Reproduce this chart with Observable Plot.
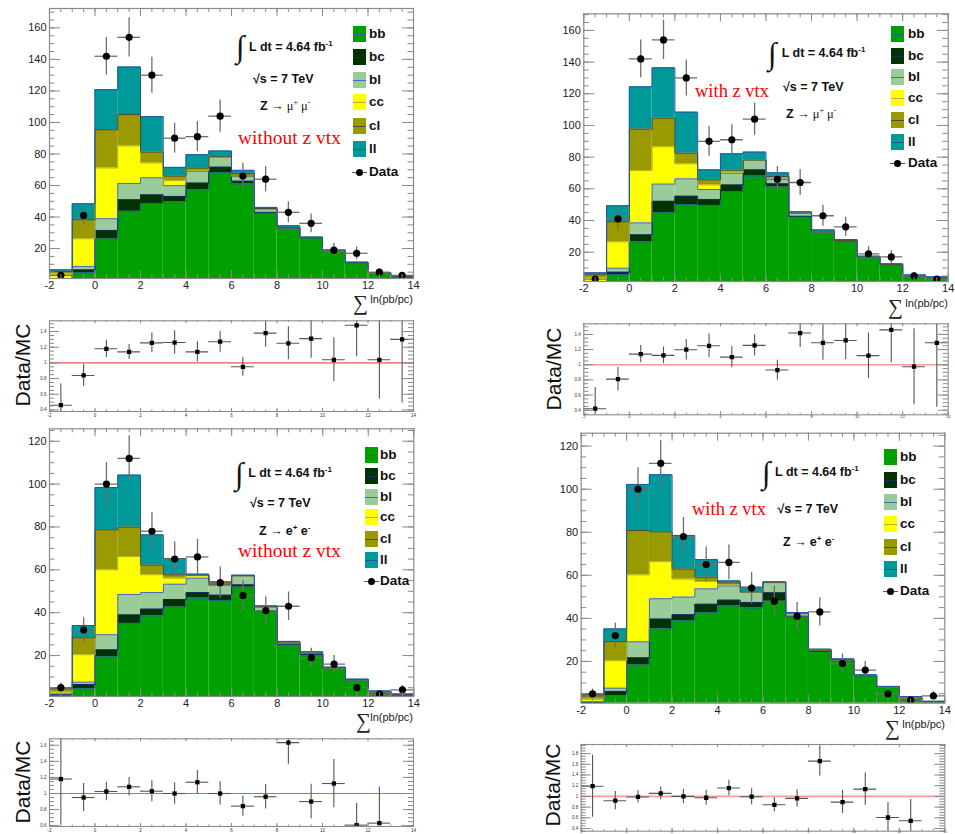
<!DOCTYPE html>
<html><head><meta charset="utf-8">
<script src="https://cdn.jsdelivr.net/npm/d3@7"></script>
<script src="https://cdn.jsdelivr.net/npm/@observablehq/plot@0.6"></script>
<style>
body{margin:0;background:#fff;}
#root{position:relative;width:955px;height:834px;overflow:hidden;font-family:"Liberation Sans",Arial,sans-serif;background:#fff;}
#root svg{position:absolute;}
.t{position:absolute;white-space:nowrap;line-height:1;}
.sw{position:absolute;width:13px;height:16px;}
.sw i{position:absolute;left:0;right:0;top:7.5px;height:1px;}
</style></head><body><div id="root"></div>
<script>
// ---------- binning ----------
const binEdges = [-2,-1,0,1,2,3,4,5,6,7,8,9,10,11,12,13,14];
const binCenters = [-1.5,-0.5,0.5,1.5,2.5,3.5,4.5,5.5,6.5,7.5,8.5,9.5,10.5,11.5,12.5,13.5];
const layerNames = ["bb","bc","bl","cc","cl","ll"];
const layerFills = ["#00a000","#003300","#99cc99","#ffff00","#999900","#009999"];
const layerLines = ["#22668a","#1a2a66","#4d6bb0","#b3b31a","#4d4d38","#2255aa"];

// ---------- Z -> mu mu, without z vtx ----------
const muNoVtx_bb = [0.3, 4.8, 26.0, 43.6, 48.6, 49.7, 57.3, 68.1, 60.9, 42.6, 32.8, 26.8, 18.2, 11.0, 4.2, 2.0];
const muNoVtx_bc = [0.2, 1.7, 5.5, 7.4, 5.5, 3.4, 4.3, 3.6, 1.9, 0.4, 0.1, 0.1, 0.1, 0.0, 0.1, 0.1];
const muNoVtx_bl = [0.3, 2.1, 7.4, 10.3, 10.8, 6.8, 7.4, 6.4, 3.1, 2.0, 0.2, 0.1, 0.2, 0.1, 0.1, 0.1];
const muNoVtx_cc = [3.0, 17.6, 32.2, 23.8, 9.4, 3.3, 0.4, 0.1, 0.1, 0.2, 0.1, 0.0, 0.0, 0.0, 0.0, 0.0];
const muNoVtx_cl = [1.7, 12.1, 24.3, 19.9, 6.9, 2.8, 1.7, 0.1, 1.5, 0.2, 0.1, 0.1, 0.1, 0.1, 0.1, 0.1];
const muNoVtx_ll = [1.0, 10.1, 25.4, 30.2, 22.5, 5.5, 8.5, 3.6, 2.1, 0.7, 1.2, 0.2, 0.6, 0.2, 0.3, 0.4];
// ---------- Z -> mu mu, with z vtx ----------
const muVtx_bb = [0.3, 5.9, 26.5, 44.9, 50.1, 49.5, 58.3, 68.0, 61.1, 42.5, 32.4, 27.0, 16.6, 12.0, 5.0, 3.6];
const muVtx_bc = [0.3, 1.5, 4.5, 7.3, 5.3, 3.8, 4.2, 4.0, 2.1, 0.2, 0.1, 0.1, 0.1, 0.1, 0.1, 0.1];
const muVtx_bl = [0.3, 2.5, 7.5, 10.8, 10.9, 6.3, 7.4, 6.0, 4.3, 1.9, 0.2, 0.2, 0.2, 0.1, 0.1, 0.1];
const muVtx_cc = [3.1, 16.6, 33.1, 23.5, 9.5, 2.9, 0.6, 0.1, 0.1, 0.1, 0.1, 0.0, 0.0, 0.0, 0.0, 0.0];
const muVtx_cl = [1.8, 12.7, 26.1, 18.1, 6.7, 3.2, 1.3, 0.1, 0.2, 0.1, 0.1, 0.1, 0.1, 0.1, 0.1, 0.1];
const muVtx_ll = [1.2, 10.1, 26.7, 31.8, 25.9, 6.3, 10.3, 5.0, 2.3, 0.7, 1.2, 0.6, 0.5, 0.4, 0.4, 0.5];
// ---------- Z -> e e, without z vtx ----------
const elNoVtx_bb = [1.6, 4.5, 19.4, 35.0, 38.5, 42.6, 46.8, 45.7, 51.9, 40.7, 25.2, 20.5, 14.0, 8.5, 2.6, 1.6];
const elNoVtx_bc = [0.2, 2.0, 3.3, 4.0, 3.2, 3.6, 2.6, 2.5, 1.1, 0.3, 0.1, 0.1, 0.1, 0.1, 0.1, 0.1];
const elNoVtx_bl = [0.3, 1.1, 7.0, 9.5, 7.7, 7.1, 6.7, 4.6, 4.1, 1.6, 0.5, 0.4, 0.1, 0.1, 0.2, 0.1];
const elNoVtx_cc = [0.8, 12.8, 30.3, 17.7, 8.3, 2.8, 1.1, 0.1, 0.1, 0.1, 0.0, 0.0, 0.0, 0.0, 0.0, 0.0];
const elNoVtx_cl = [1.6, 7.9, 18.7, 13.7, 4.5, 1.6, 0.3, 0.1, 0.1, 0.1, 0.1, 0.1, 0.1, 0.1, 0.1, 0.1];
const elNoVtx_ll = [0.6, 5.7, 19.7, 24.3, 14.1, 7.6, 0.5, 1.4, 0.2, 0.4, 0.7, 0.7, 0.3, 0.2, 0.5, 0.2];
// ---------- Z -> e e, with z vtx ----------
const elVtx_bb = [0.9, 4.1, 18.3, 35.1, 38.9, 42.6, 45.7, 44.8, 47.8, 40.4, 24.7, 20.4, 13.3, 7.9, 2.5, 1.2];
const elVtx_bc = [0.1, 2.0, 3.4, 4.6, 2.8, 4.0, 2.8, 2.6, 4.1, 0.5, 0.1, 0.1, 0.1, 0.1, 0.1, 0.05];
const elVtx_bl = [0.3, 1.5, 7.4, 9.4, 8.2, 7.1, 6.6, 4.7, 4.7, 1.3, 0.3, 0.2, 0.1, 0.1, 0.2, 0.05];
const elVtx_cc = [1.1, 12.7, 31.1, 17.2, 8.3, 3.4, 0.3, 0.1, 0.1, 0.1, 0.0, 0.0, 0.0, 0.0, 0.0, 0.0];
const elVtx_cl = [1.6, 8.9, 20.6, 13.9, 4.7, 2.0, 1.1, 0.1, 0.1, 0.1, 0.1, 0.1, 0.1, 0.1, 0.2, 0.1];
const elVtx_ll = [0.8, 5.9, 21.4, 26.5, 15.6, 8.2, 0.9, 2.2, 0.2, 0.3, 0.5, 0.4, 0.2, 0.2, 0.7, 0.1];

// ---------- data ----------
const dataMu    = [3, 41, 142, 154, 130, 90, 91, 104, 66, 64, 43, 36, 19, 17, 5, 3];
const dataMuErr = [1.7, 6.4, 11.9, 12.4, 11.4, 9.5, 9.5, 10.2, 8.1, 8.0, 6.6, 6.0, 4.4, 4.1, 2.2, 1.7];
const dataEl    = [5, 32, 100, 112, 78, 65, 66, 54, 48, 41, 43, 19, 16, 5, 2, 4];
const dataElErr = [2.2, 5.7, 10.0, 10.6, 8.8, 8.1, 8.1, 7.3, 6.9, 6.4, 6.6, 4.4, 4.0, 2.2, 1.4, 2.0];

// ---------- Data/MC ratios ----------
const ratioMuNoVtx    = [0.46, 0.84, 1.18, 1.14, 1.255, 1.26, 1.14, 1.27, 0.95, 1.38, 1.25, 1.31, 1.04, 1.48, 1.04, 1.30];
const ratioMuNoVtxErr = [0.27, 0.14, 0.11, 0.095, 0.125, 0.15, 0.13, 0.135, 0.12, 0.18, 0.21, 0.25, 0.28, 0.40, 0.50, 0.81];
const ratioMuVtx      = [0.42, 0.81, 1.14, 1.123, 1.198, 1.25, 1.10, 1.255, 0.93, 1.418, 1.29, 1.32, 1.12, 1.46, 0.974, 1.29];
const ratioMuVtxErr   = [0.28, 0.155, 0.115, 0.11, 0.135, 0.155, 0.14, 0.14, 0.13, 0.19, 0.23, 0.255, 0.30, 0.435, 0.50, 0.85];
const ratioElNoVtx    = [1.18, 0.95, 1.025, 1.083, 1.029, 1.0, 1.14, 1.0, 0.843, 0.96, 1.633, 0.90, 1.124, 0.607, 0.632, null];
const ratioElNoVtxErr = [0.57, 0.175, 0.115, 0.115, 0.13, 0.135, 0.147, 0.147, 0.126, 0.153, 0.27, 0.215, 0.30, 0.27, 0.45, null];
const ratioElVtx      = [1.19, 0.92, 0.99, 1.056, 1.0, 0.975, 1.156, 0.994, 0.844, 0.963, 1.66, 0.894, 1.137, 0.606, 0.544, null];
const ratioElVtxErr   = [0.58, 0.17, 0.115, 0.12, 0.135, 0.14, 0.145, 0.15, 0.13, 0.16, 0.28, 0.215, 0.30, 0.28, 0.40, null];

// ---------- tick labels ----------
const xTickLabels = [-2, 0, 2, 4, 6, 8, 10, 12, 14];
const muYTickLabels = [20, 40, 60, 80, 100, 120, 140, 160];
const elYTickLabels = [20, 40, 60, 80, 100, 120];
const ratioMuNoVtxTicks = [0.4, 0.6, 0.8, 1, 1.2, 1.4];
const ratioMuVtxTicks = [0.4, 0.6, 0.8, 1, 1.2, 1.4];
const ratioElNoVtxTicks = [0.6, 0.8, 1, 1.2, 1.4, 1.6];
const ratioElVtxTicks = [0.4, 0.6, 0.8, 1, 1.2, 1.4, 1.6, 1.8];
const legendLabels = ["bb", "bc", "bl", "cc", "cl", "ll", "Data"];

const root = document.getElementById("root");
const FRAME = "#8a8a8a";
const FONT = "Liberation Sans, Arial, sans-serif";

function inside(arr, dom) { return arr.filter(v => v >= dom[0] - 1e-9 && v <= dom[1] + 1e-9); }

function tickMarks(fw, fh, xMaj, xMin, yMaj, yMin, lx, ly) {
  const m = [];
  const st = {stroke: FRAME, strokeWidth: 1};
  m.push(Plot.ruleX(xMaj, {...st, insetTop: fh - lx}));
  m.push(Plot.ruleX(xMaj, {...st, insetBottom: fh - lx}));
  m.push(Plot.ruleX(xMin, {...st, insetTop: fh - lx / 2}));
  m.push(Plot.ruleX(xMin, {...st, insetBottom: fh - lx / 2}));
  m.push(Plot.ruleY(yMaj, {...st, insetRight: fw - ly}));
  m.push(Plot.ruleY(yMaj, {...st, insetLeft: fw - ly}));
  m.push(Plot.ruleY(yMin, {...st, insetRight: fw - ly / 2}));
  m.push(Plot.ruleY(yMin, {...st, insetLeft: fw - ly / 2}));
  return m;
}

function mainPlot(p) {
  const fw = p.w - p.mL - p.mR, fh = p.h - p.mT - p.mB;
  const rects = [], steps = [];
  const cum = binCenters.map(() => 0);
  p.stack.forEach((arr, j) => {
    const lower = cum.slice();
    arr.forEach((v, i) => {
      cum[i] += v;
      rects.push({fill: layerFills[j], x1: binEdges[i], x2: binEdges[i + 1], y1: lower[i], y2: cum[i]});
    });
    binEdges.forEach((e, i) => steps.push({z: layerNames[j], stroke: layerLines[j], x: e, y: cum[Math.min(i, cum.length - 1)]}));
  });
  const pts = binCenters.map((c, i) => ({c, lo: binEdges[i], hi: binEdges[i + 1], v: p.data[i], e: p.err[i]}));
  const xMin = inside(d3.range(-2, 14.001, 0.5), p.xDom);
  const yMin = inside(d3.range(0, p.yDom[1], 5), p.yDom);
  const svg = Plot.plot({
    width: p.w, height: p.h,
    marginLeft: p.mL, marginRight: p.mR, marginTop: p.mT, marginBottom: p.mB,
    x: {domain: p.xDom, label: null},
    y: {domain: p.yDom, label: null},
    color: {type: "identity"},
    style: {fontFamily: FONT, color: "#222", background: "white", overflow: "hidden"},
    marks: [
      Plot.rect(rects, {x1: "x1", x2: "x2", y1: "y1", y2: "y2", fill: "fill", clip: true}),
      Plot.line(steps, {x: "x", y: "y", z: "z", stroke: "stroke", curve: "step-after", strokeWidth: 1, clip: true}),
      Plot.ruleY(pts, {x1: "lo", x2: "hi", y: "v", stroke: "#6e6e6e", strokeWidth: 1.3, clip: true}),
      Plot.ruleX(pts, {x: "c", y1: d => d.v - d.e, y2: d => d.v + d.e, stroke: "#6e6e6e", strokeWidth: 1.3, clip: true}),
      Plot.dot(pts, {x: "c", y: "v", r: 3.6, fill: "black", stroke: "none", clip: true}),
      ...tickMarks(fw, fh, xTickLabels, xMin, p.yTicks, yMin, 8, 11),
      Plot.frame({stroke: FRAME, strokeWidth: 1.2}),
      Plot.axisX(xTickLabels, {anchor: "bottom", tickSize: 0, tickPadding: 3, fontSize: 11, tickFormat: d => String(d), label: null}),
      Plot.axisY(p.yTicks, {anchor: "left", tickSize: 0, tickPadding: 3, fontSize: 11, tickFormat: d => String(d), label: null})
    ]
  });
  svg.style.left = p.left + "px"; svg.style.top = p.top + "px";
  root.appendChild(svg);
}

function ratioPlot(p) {
  const fw = p.w - p.mL - p.mR, fh = p.h - p.mT - p.mB;
  const pts = binCenters.map((c, i) => ({c, lo: binEdges[i], hi: binEdges[i + 1], v: p.ratio[i], e: p.err[i]})).filter(d => d.v != null);
  const xMin = inside(d3.range(-2, 14.001, 0.5), p.xDom);
  const yMin = inside(d3.range(0.3, 2.0, 0.05), p.yDom);
  const svg = Plot.plot({
    width: p.w, height: p.h,
    marginLeft: p.mL, marginRight: p.mR, marginTop: p.mT, marginBottom: p.mB,
    x: {domain: p.xDom, label: null},
    y: {domain: p.yDom, label: null},
    style: {fontFamily: FONT, color: "#333", background: "white", overflow: "hidden"},
    marks: [
      Plot.ruleY([1], {stroke: p.lineColor, strokeWidth: p.lineWidth}),
      Plot.ruleY(pts, {x1: "lo", x2: "hi", y: "v", stroke: "#555", strokeWidth: 1.1, clip: true}),
      Plot.ruleX(pts, {x: "c", y1: d => d.v - d.e, y2: d => d.v + d.e, stroke: "#555", strokeWidth: 1.1, clip: true}),
      Plot.dot(pts, {x: "c", y: "v", r: 2.4, symbol: "square", fill: "black", stroke: "none", clip: true}),
      ...tickMarks(fw, fh, xTickLabels, xMin, p.yTicks, yMin, 3, 10),
      Plot.frame({stroke: FRAME, strokeWidth: 1.1}),
      Plot.axisX(xTickLabels, {anchor: "bottom", tickSize: 0, tickPadding: p.xPad, fontSize: p.xFont, tickFormat: d => String(d), label: null}),
      Plot.axisY(p.yTicks, {anchor: "left", tickSize: 0, tickPadding: 3, fontSize: 4.5, tickFormat: d => String(d), label: null})
    ]
  });
  svg.style.left = p.left + "px"; svg.style.top = p.top + "px";
  root.appendChild(svg);
}

function txt(x, y, html, css = "", ax = 0, rot = 0) {
  const d = document.createElement("div");
  d.className = "t";
  d.style.cssText = `left:${x}px;top:${y}px;transform:translate(${-ax * 100}%,-50%)${rot ? ` rotate(${rot}deg)` : ""};` + css;
  d.innerHTML = html;
  root.appendChild(d);
  return d;
}

function legend(bx, rows, tx) {
  legendLabels.forEach((lab, i) => {
    const y = rows[i];
    if (i < layerNames.length) {
      const s = document.createElement("div");
      s.className = "sw";
      s.style.cssText = `left:${bx}px;top:${y - 8}px;background:${layerFills[i]};`;
      s.innerHTML = `<i style="background:${layerLines[i]}"></i>`;
      root.appendChild(s);
    } else {
      const s = document.createElement("div");
      s.style.cssText = `position:absolute;left:${bx - 1}px;top:${y - 0.5}px;width:15px;height:1px;background:#555;`;
      root.appendChild(s);
      const dot = document.createElement("div");
      dot.style.cssText = `position:absolute;left:${bx + 2.5}px;top:${y - 3.5}px;width:7px;height:7px;border-radius:50%;background:#000;`;
      root.appendChild(dot);
    }
    txt(tx, y, lab, "font-weight:bold;font-size:13.5px;color:#111;");
  });
}

function annotate(a) {
  txt(a.ix, a.iy, "∫", "font-family:'Liberation Serif',serif;font-size:31px;color:#111;");
  txt(a.lx, a.ly, "L dt = 4.64 fb<sup style='font-size:8px;vertical-align:5px'>-1</sup>", "font-weight:bold;font-size:12.5px;color:#111;");
  txt(a.sx, a.sy, "√s = 7 TeV", "font-weight:bold;font-size:12.5px;color:#111;");
  txt(a.zx, a.zy, a.z, "font-size:12.5px;color:#111;");
  txt(a.rx, a.ry, a.red, `font-family:'Liberation Serif',serif;font-size:${a.rs}px;color:#ff0000;`);
}

function xTitle(sx, rx, y) {
  txt(sx, y + 5, "∑", "font-family:'Liberation Serif',serif;font-size:21px;line-height:0.7;color:#222;");
  txt(rx, y + 1, "ln(pb/pc)", "font-size:11px;color:#222;", 1);
}

const muZ = "<b>Z</b> <span style=\"font-family:'Liberation Serif',serif\">→ μ<sup style='font-size:8px'>+</sup> μ<sup style='font-size:8px'>-</sup></span>";
const elZ = "<b>Z</b> <span style=\"font-family:'Liberation Serif',serif\">→ </span><b>e<sup style='font-size:8px'>+</sup> e<sup style='font-size:8px'>-</sup></b>";

// ---------- panels ----------
mainPlot({left: 0, top: 0, w: 480, h: 310, mL: 49, mR: 67, mT: 8, mB: 32, xDom: [-2, 14], yDom: [1, 172.3],
  stack: [muNoVtx_bb, muNoVtx_bc, muNoVtx_bl, muNoVtx_cc, muNoVtx_cl, muNoVtx_ll], data: dataMu, err: dataMuErr, yTicks: muYTickLabels});
mainPlot({left: 480, top: 0, w: 475, h: 310, mL: 103.3, mR: 7.3, mT: 13.3, mB: 29, xDom: [-2, 14], yDom: [1.5, 170.5],
  stack: [muVtx_bb, muVtx_bc, muVtx_bl, muVtx_cc, muVtx_cl, muVtx_ll], data: dataMu, err: dataMuErr, yTicks: muYTickLabels});
mainPlot({left: 0, top: 420, w: 480, h: 305, mL: 49, mR: 66.7, mT: 8.3, mB: 29, xDom: [-2, 14], yDom: [0.9, 125.8],
  stack: [elNoVtx_bb, elNoVtx_bc, elNoVtx_bl, elNoVtx_cc, elNoVtx_cl, elNoVtx_ll], data: dataEl, err: dataElErr, yTicks: elYTickLabels});
mainPlot({left: 480, top: 420, w: 475, h: 305, mL: 100.7, mR: 10.7, mT: 12.7, mB: 22.3, xDom: [-2, 14], yDom: [0.6, 126],
  stack: [elVtx_bb, elVtx_bc, elVtx_bl, elVtx_cc, elVtx_cl, elVtx_ll], data: dataEl, err: dataElErr, yTicks: elYTickLabels});

ratioPlot({left: 0, top: 310, w: 480, h: 110, mL: 49, mR: 67, mT: 10.3, mB: 9, xDom: [-2, 14], yDom: [0.38, 1.537],
  ratio: ratioMuNoVtx, err: ratioMuNoVtxErr, yTicks: ratioMuNoVtxTicks, lineColor: "#ff5050", lineWidth: 1.2, xPad: 2, xFont: 4.5});
ratioPlot({left: 480, top: 310, w: 475, h: 110, mL: 103.3, mR: 7.3, mT: 13.3, mB: 5.7, xDom: [-2, 14], yDom: [0.34, 1.54],
  ratio: ratioMuVtx, err: ratioMuVtxErr, yTicks: ratioMuVtxTicks, lineColor: "#ff9a9a", lineWidth: 1.6, xPad: 0.5, xFont: 4});
ratioPlot({left: 0, top: 725, w: 480, h: 109, mL: 49, mR: 67, mT: 13.3, mB: 8, xDom: [-2, 14], yDom: [0.59, 1.68],
  ratio: ratioElNoVtx, err: ratioElNoVtxErr, yTicks: ratioElNoVtxTicks, lineColor: "#ff5050", lineWidth: 1.2, xPad: 2, xFont: 4.5});
ratioPlot({left: 480, top: 725, w: 475, h: 109, mL: 100.7, mR: 10.7, mT: 19, mB: 3.3, xDom: [-2, 14], yDom: [0.35, 1.97],
  ratio: ratioElVtx, err: ratioElVtxErr, yTicks: ratioElVtxTicks, lineColor: "#ff9a9a", lineWidth: 1.6, xPad: 0, xFont: 3});

// ---------- overlays ----------
legend(353, [34.3, 57, 80, 102.3, 126.3, 149, 172.3], 369);
legend(891, [34, 56, 77, 98, 120, 142, 163], 908);
legend(365, [455, 476, 497, 517, 539, 560, 581], 380);
legend(884, [457, 480, 502, 524, 547, 569, 591], 900);

annotate({ix: 236, iy: 46, lx: 249, ly: 46.7, sx: 253, sy: 79, zx: 260, zy: 106, z: muZ, rx: 238, ry: 138, red: "without z vtx", rs: 19.5});
annotate({ix: 768, iy: 53, lx: 781.7, ly: 53.3, sx: 783, sy: 86.7, zx: 786, zy: 114, z: muZ, rx: 695, ry: 91, red: "with z vtx", rs: 18.5});
annotate({ix: 235, iy: 472.5, lx: 248.3, ly: 473.3, sx: 250, sy: 502.7, zx: 259, zy: 531, z: elZ, rx: 238, ry: 550.5, red: "without z vtx", rs: 19.5});
annotate({ix: 762, iy: 471.5, lx: 775, ly: 472.3, sx: 777.5, sy: 509, zx: 783, zy: 542.3, z: elZ, rx: 692, ry: 508.5, red: "with z vtx", rs: 18.5});

xTitle(353, 413, 298);
xTitle(888, 948, 302);
xTitle(356, 413, 716);
xTitle(885, 945, 723.3);

const dmc = "font-size:21px;color:#111;";
txt(22, 365, "Data/MC", dmc, 0.5, -90);
txt(553, 369, "Data/MC", dmc, 0.5, -90);
txt(22, 782, "Data/MC", dmc, 0.5, -90);
txt(552, 785, "Data/MC", dmc, 0.5, -90);
</script>
</body></html>
